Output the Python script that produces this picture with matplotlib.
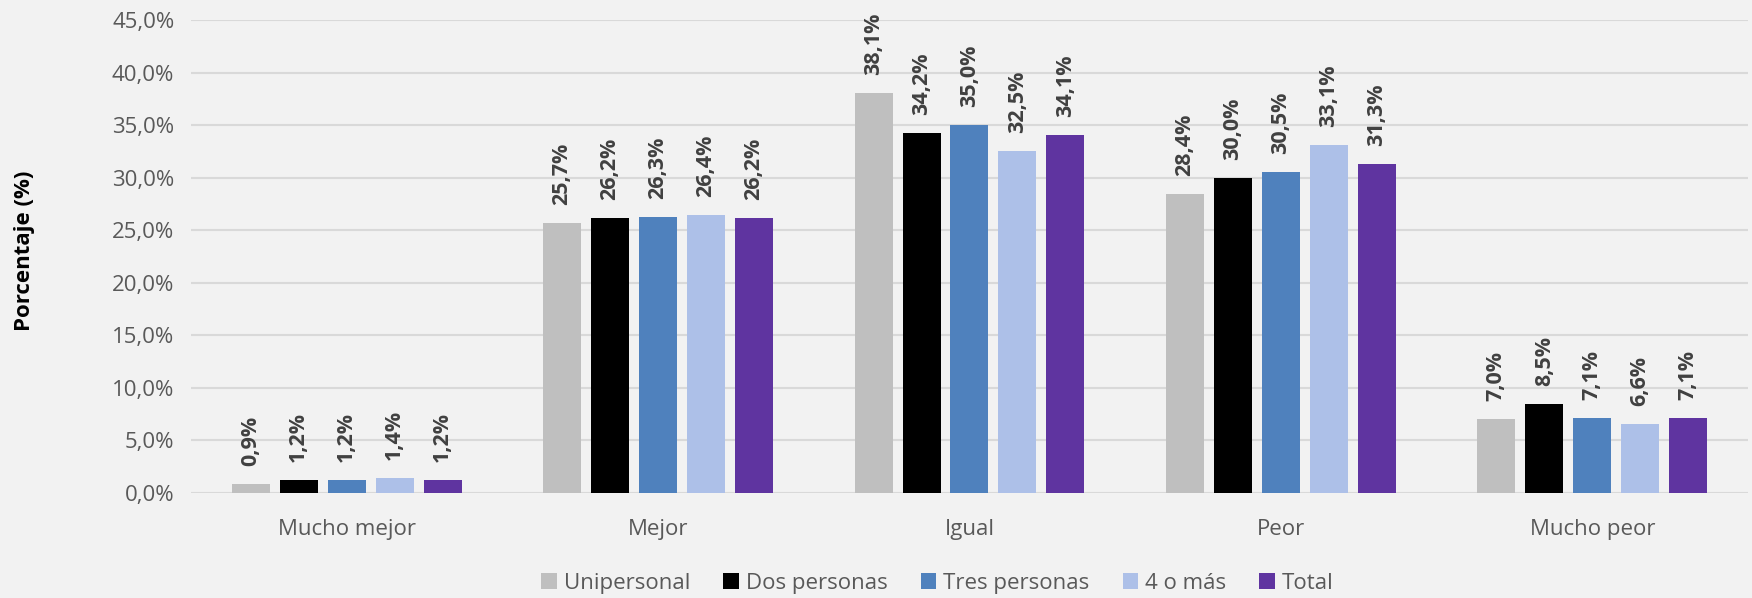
import matplotlib
matplotlib.use("Agg")
import matplotlib.pyplot as plt
import numpy as np
from matplotlib.ticker import FuncFormatter, MultipleLocator

categories = ["Mucho mejor", "Mejor", "Igual", "Peor", "Mucho peor"]
series_names = ["Unipersonal", "Dos personas", "Tres personas", "4 o más", "Total"]
unipersonal = [0.9, 25.7, 38.1, 28.4, 7.0]
dos_personas = [1.2, 26.2, 34.2, 30.0, 8.5]
tres_personas = [1.2, 26.3, 35.0, 30.5, 7.1]
cuatro_o_mas = [1.4, 26.4, 32.5, 33.1, 6.6]
total = [1.2, 26.2, 34.1, 31.3, 7.1]
series_values = [unipersonal, dos_personas, tres_personas, cuatro_o_mas, total]
colors = ["#bfbfbf", "#000000", "#4f81bd", "#adc0e8", "#5f34a0"]

plt.rcParams['font.family'] = ['Open Sans', 'DejaVu Sans']
bg = "#f2f2f2"
fig = plt.figure(figsize=(17.52, 5.98), dpi=100, facecolor=bg)
ax = fig.add_axes([0.109, 0.1756, 0.8887, 0.7910])
ax.set_facecolor(bg)

x = np.arange(len(categories))
width = 0.122
step = 0.154
for i, (name, vals, c) in enumerate(zip(series_names, series_values, colors)):
    pos = x + (i - 2) * step
    bars = ax.bar(pos, vals, width=width, color=c, label=name, zorder=3)
    for b, v in zip(bars, vals):
        ax.annotate(f"{v:.1f}".replace('.', ',') + '%',
                    xy=(b.get_x() + b.get_width() / 2, v),
                    xytext=(0, 18), textcoords='offset pixels',
                    rotation=90, ha='center', va='bottom',
                    fontsize=15.5, fontweight='bold', color='#404040')

ax.set_xlim(-0.5, len(categories) - 0.5)
ax.set_ylim(0, 45)
ax.yaxis.set_major_locator(MultipleLocator(5))
ax.yaxis.set_major_formatter(FuncFormatter(lambda v, p: f"{v:.1f}".replace('.', ',') + '%'))
ax.set_xticks(x)
ax.set_xticklabels(categories)
ax.tick_params(axis='both', length=0, labelsize=16, labelcolor='#595959')
ax.tick_params(axis='y', pad=12)
ax.tick_params(axis='x', pad=19)
ax.grid(axis='y', color='#d9d9d9', linewidth=1.5, zorder=0)
for s in ax.spines.values():
    s.set_visible(False)

fig.text(0.0137, 0.58, "Porcentaje (%)", rotation=90, ha='center', va='center',
         fontsize=16, fontweight='bold', color='black')

leg = fig.legend(loc='center', bbox_to_anchor=(0.535, 0.025), ncol=5, frameon=False,
                 fontsize=16, handlelength=0.7, handleheight=0.7, handletextpad=0.3,
                 columnspacing=1.5, labelcolor='#595959')

fig.savefig("out.png", dpi=100, facecolor=bg)
